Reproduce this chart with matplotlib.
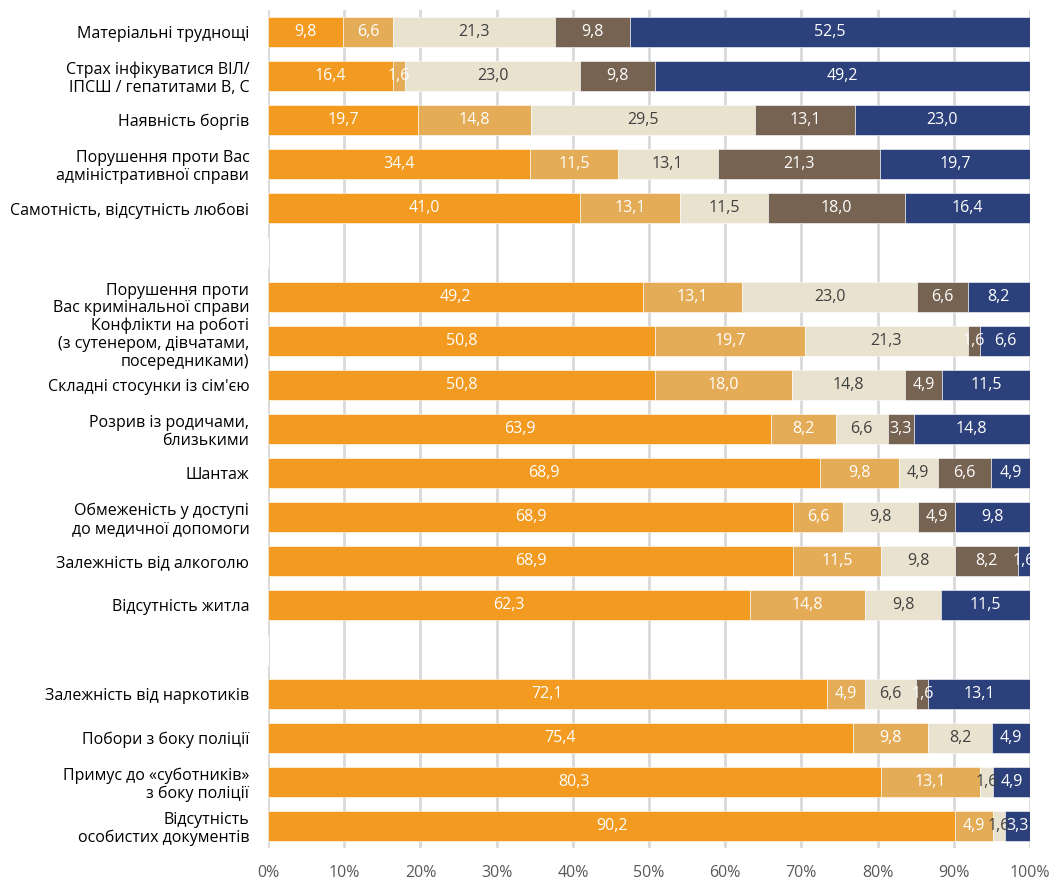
import matplotlib
matplotlib.use("Agg")
import matplotlib.pyplot as plt
import numpy as np

plt.rcParams['font.family'] = ['Open Sans', 'DejaVu Sans']

# categories top to bottom; None marks an empty spacer row
categories = [
    "Матеріальні труднощі",
    "Страх інфікуватися ВІЛ/\nІПСШ / гепатитами В, С",
    "Наявність боргів",
    "Порушення проти Вас\nадміністративної справи",
    "Самотність, відсутність любові",
    None,
    "Порушення проти\nВас кримінальної справи",
    "Конфлікти на роботі\n(з сутенером, дівчатами,\nпосередниками)",
    "Складні стосунки із сім'єю",
    "Розрив із родичами,\nблизькими",
    "Шантаж",
    "Обмеженість у доступі\nдо медичної допомоги",
    "Залежність від алкоголю",
    "Відсутність житла",
    None,
    "Залежність від наркотиків",
    "Побори з боку поліції",
    "Примус до «суботників»\nз боку поліції",
    "Відсутність\nособистих документів",
]

s1 = [9.8, 16.4, 19.7, 34.4, 41.0, 0, 49.2, 50.8, 50.8, 63.9, 68.9, 68.9, 68.9, 62.3, 0, 72.1, 75.4, 80.3, 90.2]
s2 = [6.6, 1.6, 14.8, 11.5, 13.1, 0, 13.1, 19.7, 18.0, 8.2, 9.8, 6.6, 11.5, 14.8, 0, 4.9, 9.8, 13.1, 4.9]
s3 = [21.3, 23.0, 29.5, 13.1, 11.5, 0, 23.0, 21.3, 14.8, 6.6, 4.9, 9.8, 9.8, 9.8, 0, 6.6, 8.2, 1.6, 1.6]
s4 = [9.8, 9.8, 13.1, 21.3, 18.0, 0, 6.6, 1.6, 4.9, 3.3, 6.6, 4.9, 8.2, 0, 0, 1.6, 0, 0, 0]
s5 = [52.5, 49.2, 23.0, 19.7, 16.4, 0, 8.2, 6.6, 11.5, 14.8, 4.9, 9.8, 1.6, 11.5, 0, 13.1, 4.9, 4.9, 3.3]

series = [s1, s2, s3, s4, s5]
colors = ['#F39A20', '#E5AC57', '#E9E2CF', '#776352', '#2C417C']
text_colors = ['white', 'white', '#404040', 'white', 'white']

fig = plt.figure(figsize=(10.52, 8.8), dpi=100)
ax = fig.add_axes([0.2548, 0.0364, 0.9791 - 0.2548, 0.9886 - 0.0364])

data = np.array(series, dtype=float)
totals = data.sum(axis=0)
totals[totals == 0] = 1
shares = data / totals * 100

y = np.arange(len(categories))
left = np.zeros(len(categories))
for k in range(len(series)):
    ax.barh(y, shares[k], left=left, height=0.68, color=colors[k],
            edgecolor='white', linewidth=0.4, zorder=3)
    for i in range(len(categories)):
        if data[k, i] > 0:
            ax.text(left[i] + shares[k, i] / 2, y[i],
                    f"{data[k, i]:.1f}".replace('.', ','),
                    ha='center', va='center', fontsize=11.5,
                    color=text_colors[k], zorder=4, clip_on=True)
    left += shares[k]

ax.set_xlim(0, 100)
ax.set_ylim(len(categories) - 0.5, -0.5)
ax.set_xticks(np.arange(0, 101, 10))
ax.set_xticklabels([f"{v}%" for v in range(0, 101, 10)], fontsize=11.5, color='#595959')
ax.set_yticks([i for i, c in enumerate(categories) if c])
ax.set_yticklabels([c for c in categories if c], fontsize=11.5, color='black', linespacing=1.15)
ax.tick_params(axis='both', length=0)
ax.tick_params(axis='y', pad=13.5)
ax.tick_params(axis='x', pad=12)
ax.grid(axis='x', color='#D9D9D9', linewidth=2, zorder=0)
for sp in ax.spines.values():
    sp.set_visible(False)

fig.savefig("out.png", dpi=100)
